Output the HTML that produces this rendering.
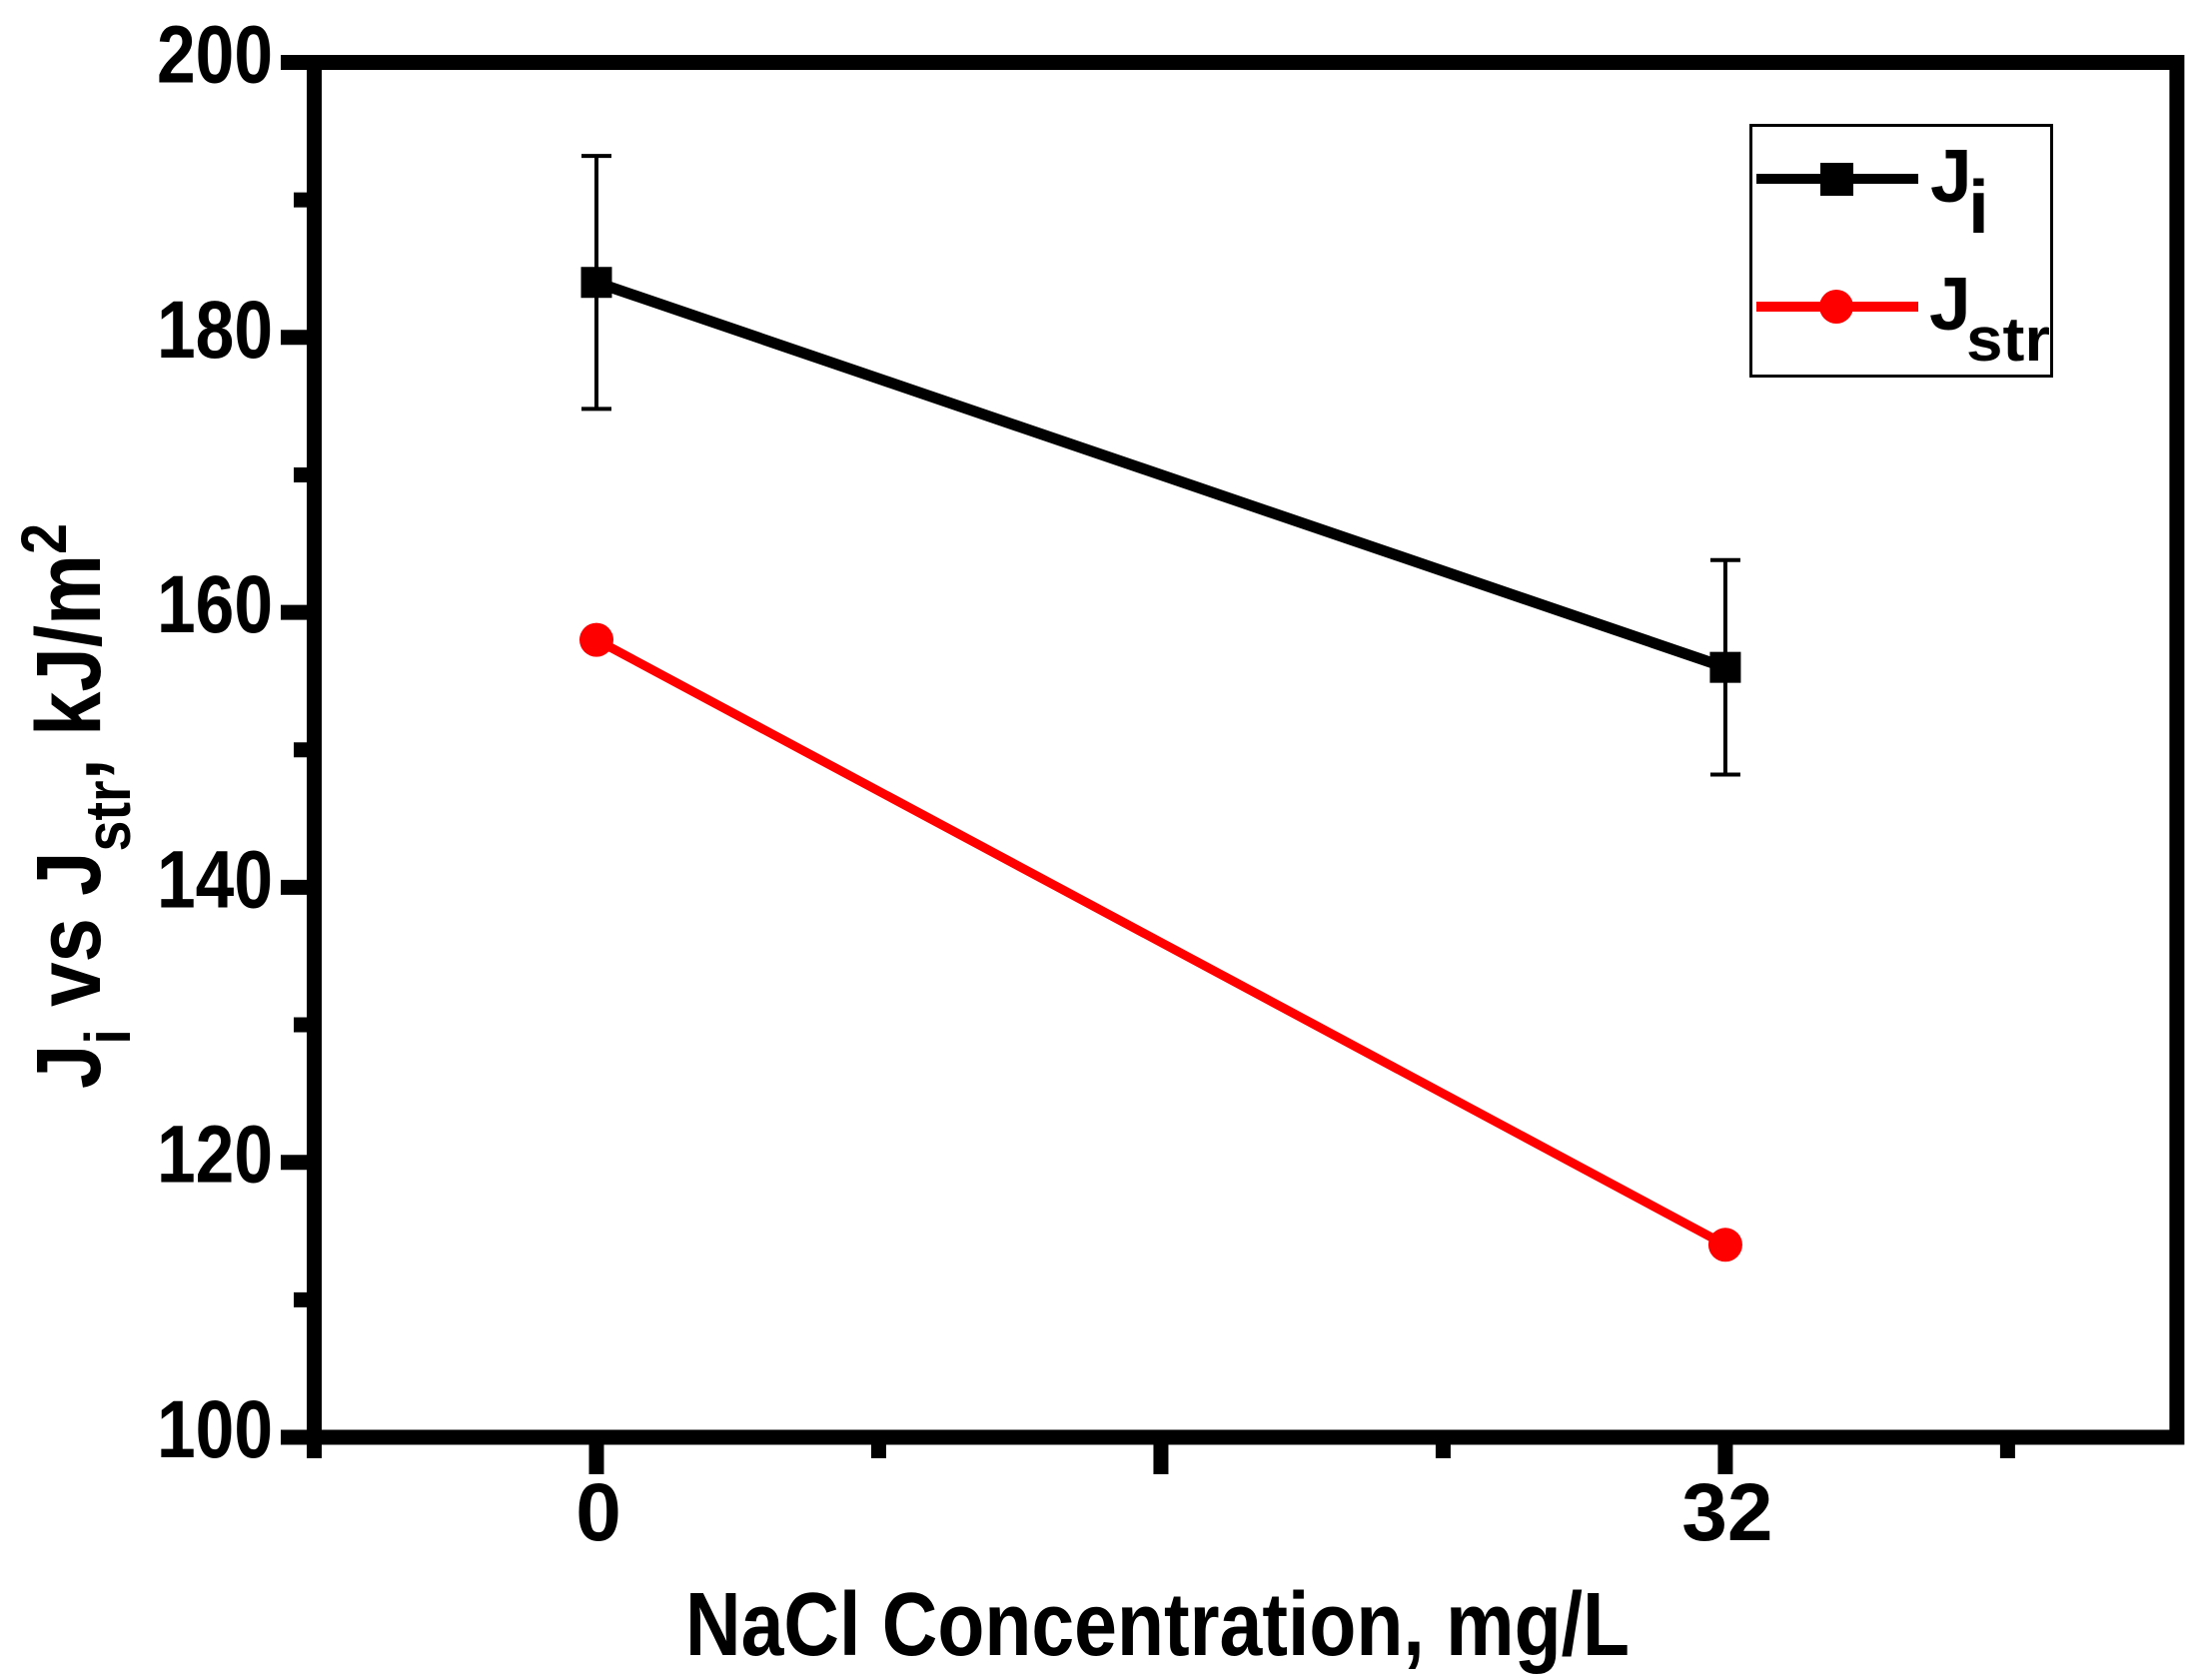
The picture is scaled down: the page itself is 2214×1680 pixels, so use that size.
<!DOCTYPE html>
<html><head><meta charset="utf-8"><style>
html,body{margin:0;padding:0;background:#fff}
svg{display:block}
text{font-family:"Liberation Sans",Arial,sans-serif;font-weight:bold;fill:#000}
</style></head><body>
<svg id="chart" width="2214" height="1680" viewBox="0 0 2214 1680" xmlns="http://www.w3.org/2000/svg">
<g id="axes"></g>
<g id="series"></g>
<text x="686" y="1657" font-size="90" textLength="945" lengthAdjust="spacingAndGlyphs">NaCl Concentration, mg/L</text>
<text transform="translate(100,1090) rotate(-90)" font-size="92" textLength="566" lengthAdjust="spacingAndGlyphs">J<tspan dy="30" font-size="64">i</tspan><tspan dy="-30">  vs J</tspan><tspan dy="30" font-size="64">str</tspan><tspan dy="-30">, kJ/m</tspan><tspan dy="-34" font-size="64">2</tspan></text>
<g>
<rect x="1752.5" y="125.5" width="301" height="251" fill="#fff" stroke="#000" stroke-width="3"/>
<g>
<line x1="1758" y1="179" x2="1920" y2="179" stroke="#000" stroke-width="10"/>
<rect x="1822" y="163" width="33" height="33" fill="#000"/>
<text x="1932" y="202" font-size="75">J</text><text x="1970" y="233" font-size="75">i</text>
</g>
<g>
<line x1="1758" y1="307" x2="1920" y2="307" stroke="#f00" stroke-width="10"/>
<circle cx="1838" cy="307" r="17" fill="#f00"/>
<text x="1931" y="330" font-size="75">J</text><text x="1968" y="361" font-size="62" textLength="84" lengthAdjust="spacingAndGlyphs">str</text>
</g>
</g>
</svg>
<script>
const categories = [0, 32];
const jiValues = [184, 156];
const jiErrors = [9.2, 7.8];
const jstrValues = [158, 114];
const yTickLabels = ["100", "120", "140", "160", "180", "200"];
const xTickLabels = ["0", "32"];
const xMajorTicks = [-8, 0, 16, 32, 44.8];
const xMinorTicks = [8, 24, 40];

const NS = "http://www.w3.org/2000/svg";
const xS = v => 597 + v * 35.31;
const yS = v => 1439 - (v - 100) * 13.765;
const axes = document.getElementById('axes');
const series = document.getElementById('series');
function mk(tag, attrs, parent){ const e = document.createElementNS(NS, tag); for (const k in attrs) e.setAttribute(k, attrs[k]); parent.appendChild(e); return e; }

let f = mk('rect', {x: xS(-8), y: yS(200), width: xS(44.8) - xS(-8), height: yS(100) - yS(200), fill: 'none', stroke: '#000', 'stroke-width': 15}, axes);


let ext = mk('line', {x1: xS(-8), y1: yS(100), x2: xS(-8), y2: 1460, stroke: '#000', 'stroke-width': 15}, axes);



for (let v = 110; v < 200; v += 20) {
  const t = mk('line', {x1: 294, y1: yS(v), x2: xS(-8), y2: yS(v), stroke: '#000', 'stroke-width': 15}, axes);
  
  
}
yTickLabels.forEach(s => {
  const v = parseFloat(s);
  const t = mk('line', {x1: 281, y1: yS(v), x2: xS(-8), y2: yS(v), stroke: '#000', 'stroke-width': 15}, axes);
  
  
  const l = mk('text', {x: 273, y: yS(v) + 20, 'font-size': 82, 'text-anchor': 'end', textLength: 116, lengthAdjust: 'spacingAndGlyphs'}, axes);
  l.textContent = s;
  
  
});
[0, 16, 32].forEach(v => {
  const t = mk('line', {x1: xS(v), y1: yS(100), x2: xS(v), y2: 1476, stroke: '#000', 'stroke-width': 15}, axes);
  
  
});
xMinorTicks.forEach(v => {
  const t = mk('line', {x1: xS(v), y1: yS(100), x2: xS(v), y2: 1460, stroke: '#000', 'stroke-width': 15}, axes);
  
  
});
xTickLabels.forEach(s => {
  const v = parseFloat(s);
  const l = mk('text', {x: xS(v) + 2, y: 1542, 'font-size': 82, 'text-anchor': 'middle'}, axes);
  l.textContent = s;
  
  
});

const rl = mk('polyline', {points: categories.map((c, i) => xS(c) + ',' + yS(jstrValues[i])).join(' '), fill: 'none', stroke: '#f00', 'stroke-width': 9}, series);


categories.forEach((c, i) => {
  const p = mk('circle', {cx: xS(c), cy: yS(jstrValues[i]), r: 17, fill: '#f00'}, series);
  
  
});
const bl = mk('polyline', {points: categories.map((c, i) => xS(c) + ',' + yS(jiValues[i])).join(' '), fill: 'none', stroke: '#000', 'stroke-width': 11}, series);


categories.forEach((c, i) => {
  const x = xS(c), hi = yS(jiValues[i] + jiErrors[i]), lo = yS(jiValues[i] - jiErrors[i]);
  const eb = mk('path', {d: `M${x},${hi}V${lo}M${x-15},${hi}H${x+15}M${x-15},${lo}H${x+15}`, stroke: '#000', 'stroke-width': 4, fill: 'none'}, series);
  
  
  const p = mk('rect', {x: x - 15.5, y: yS(jiValues[i]) - 15.5, width: 31, height: 31, fill: '#000'}, series);
  
  
});
</script>
</body></html>
